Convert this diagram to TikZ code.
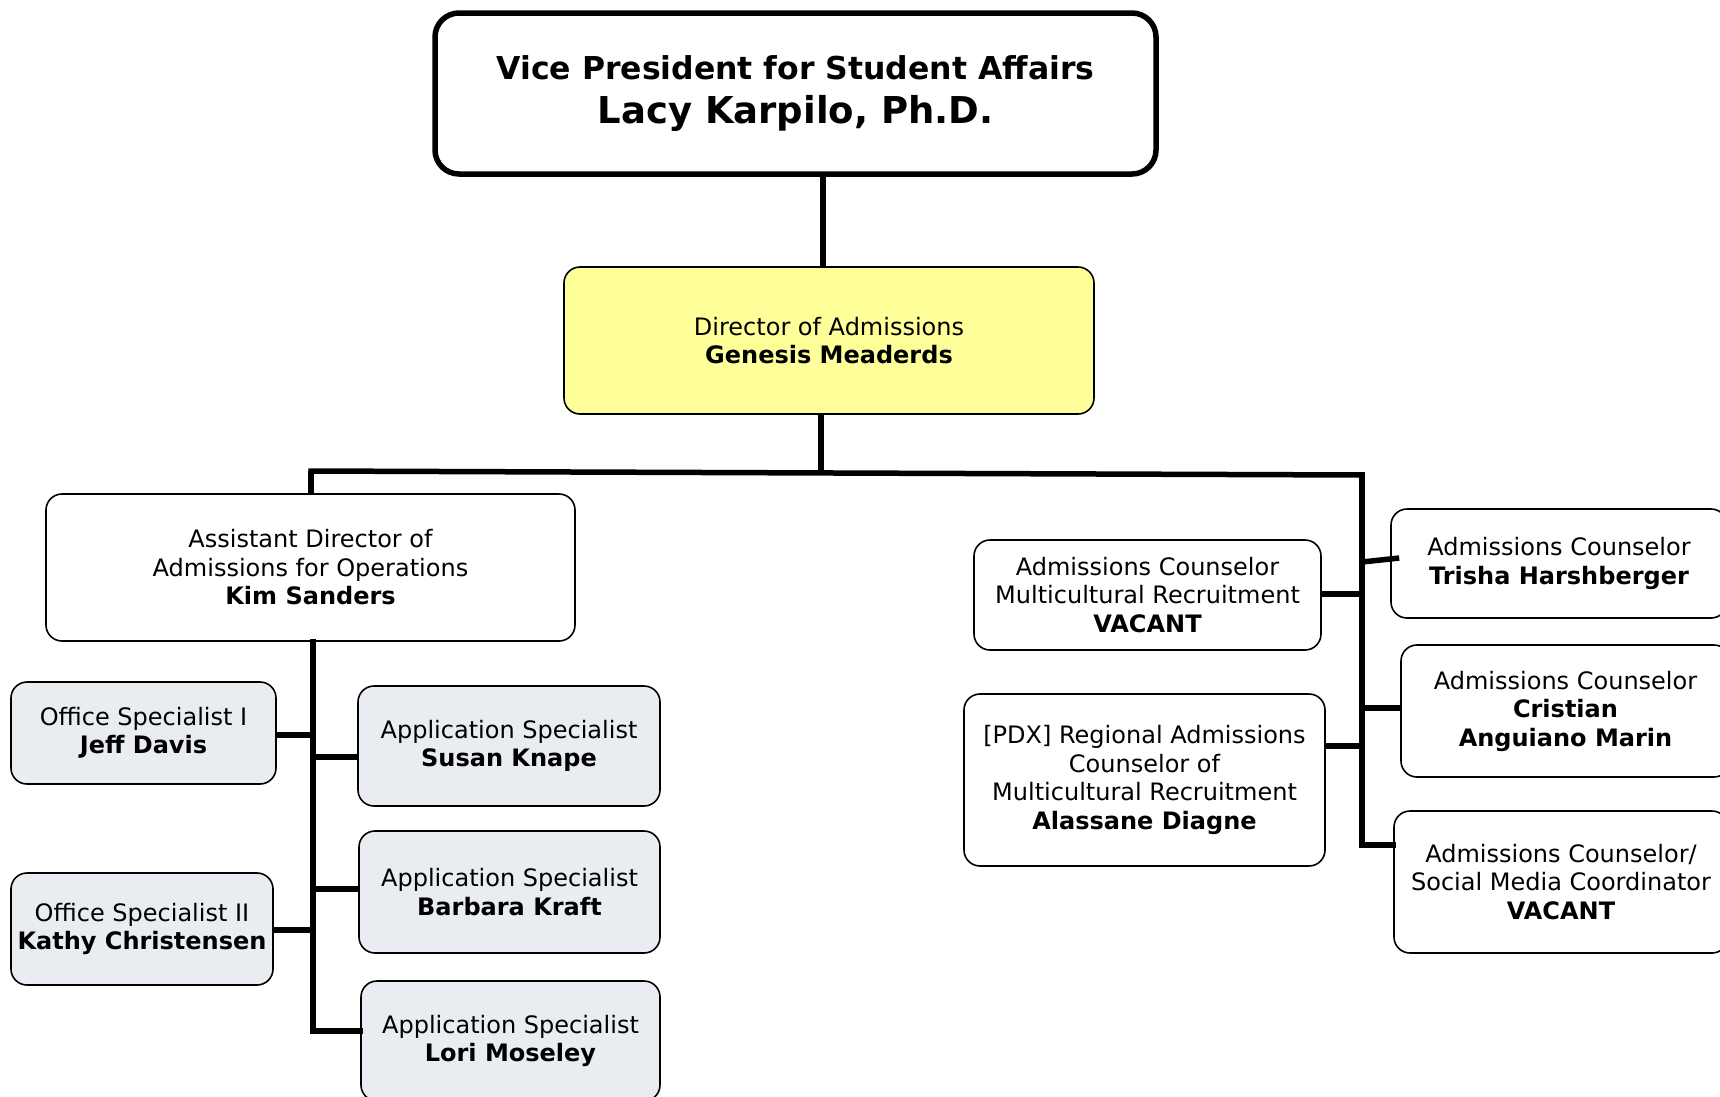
\documentclass[tikz,border=0pt]{standalone}
\usepackage{fontspec}
\setmainfont{DejaVu Sans}
\begin{document}
\begin{tikzpicture}[x=1pt,y=-1pt,
  box/.style={draw=black,line width=1.6pt,rounded corners=16pt,align=center,inner sep=0pt,
    font=\fontsize{24}{28.5}\selectfont},
  graybox/.style={box,fill=specgray},
  conn/.style={line width=5.5pt,line cap=rect},
]
\definecolor{specgray}{RGB}{233,236,241}
\definecolor{diryellow}{RGB}{255,255,153}
\useasboundingbox (0,0) rectangle (1720,1096);
\clip (0,0) rectangle (1720,1096);
% boxes
\node[box,line width=5.5pt,rounded corners=24pt,minimum width=721pt,minimum height=161pt] (vp) at (795.5,93.5)
  {\vspace*{9pt}\fontsize{31.5}{36}\selectfont\textbf{Vice President for Student Affairs}\\[14pt]
   \fontsize{37}{40}\selectfont\textbf{Lacy Karpilo, Ph.D.}};
\node[box,fill=diryellow,minimum width=530pt,minimum height=147pt] (dir) at (829,340.5)
  {Director of Admissions\\\textbf{Genesis Meaderds}};
\node[box,minimum width=529pt,minimum height=147pt] (ad) at (310.5,567.5)
  {Assistant Director of\\Admissions for Operations\\\textbf{Kim Sanders}};
\node[graybox,minimum width=265pt,minimum height=102pt] (os1) at (143.5,733)
  {Office Specialist I\\\textbf{Jeff Davis}};
\node[graybox,minimum width=302pt,minimum height=120pt] (as1) at (509,746)
  {Application Specialist\\\textbf{Susan Knape}};
\node[graybox,minimum width=262pt,minimum height=112pt] (os2) at (142,929)
  {Office Specialist II\\\textbf{Kathy Christensen}};
\node[graybox,minimum width=301pt,minimum height=122pt] (as2) at (509.5,892)
  {Application Specialist\\\textbf{Barbara Kraft}};
\node[graybox,minimum width=299pt,minimum height=120pt] (as3) at (510.5,1041)
  {Application Specialist\\\textbf{Lori Moseley}};
\node[box,minimum width=336pt,minimum height=109pt] (ac1) at (1559,563.5)
  {Admissions Counselor\\\textbf{Trisha Harshberger}};
\node[box,minimum width=347pt,minimum height=110pt] (acm) at (1147.5,595)
  {Admissions Counselor\\Multicultural Recruitment\\\textbf{VACANT}};
\node[box,minimum width=329pt,minimum height=132pt] (ac2) at (1565.5,711)
  {Admissions Counselor\\\textbf{Cristian}\\\textbf{Anguiano Marin}};
\node[box,minimum width=361pt,minimum height=172pt] (pdx) at (1144.5,780)
  {[PDX] Regional Admissions\\Counselor of\\Multicultural Recruitment\\\textbf{Alassane Diagne}};
\node[box,minimum width=334pt,minimum height=142pt] (ac3) at (1561,882)
  {Admissions Counselor/\\Social Media Coordinator\\\textbf{VACANT}};
% helper coordinates
\coordinate (vx) at (823,0);
\coordinate (dx) at (821,473);
\coordinate (busL) at (311,471);
\coordinate (busR) at (1362,475);
\coordinate (trL) at (313,1031);
\coordinate (trR) at (1362,845);
% connectors
\draw[conn,line cap=butt] (vp.south -| vx) -- (dir.north -| vx);
\draw[conn,line cap=butt] (dir.south -| dx) -- (dx);
\draw[conn] (busL) -- (busR);
\draw[conn,line cap=butt] (busL) -- (ad.north -| busL);
\draw[conn] (ad.south -| trL) -- (trL) -- (as3.west |- trL);
\draw[conn,line cap=butt] (os1.east |- 0,735) -- (trL |- 0,735);
\draw[conn,line cap=butt] (trL |- 0,757) -- (as1.west |- 0,757);
\draw[conn,line cap=butt] (os2.east |- 0,930) -- (trL |- 0,930);
\draw[conn,line cap=butt] (trL |- 0,889) -- (as2.west |- 0,889);
\draw[conn] (busR) -- (trR) -- (ac3.west |- trR);
\draw[conn,line cap=butt] (busR |- 0,562) -- ([xshift=9pt]ac1.west |- 0,558);
\draw[conn,line cap=butt] (acm.east |- 0,594) -- (busR |- 0,594);
\draw[conn,line cap=butt] (busR |- 0,708) -- ([xshift=2pt]ac2.west |- 0,708);
\draw[conn,line cap=butt] (pdx.east |- 0,746) -- (busR |- 0,746);
\end{tikzpicture}
\end{document}
